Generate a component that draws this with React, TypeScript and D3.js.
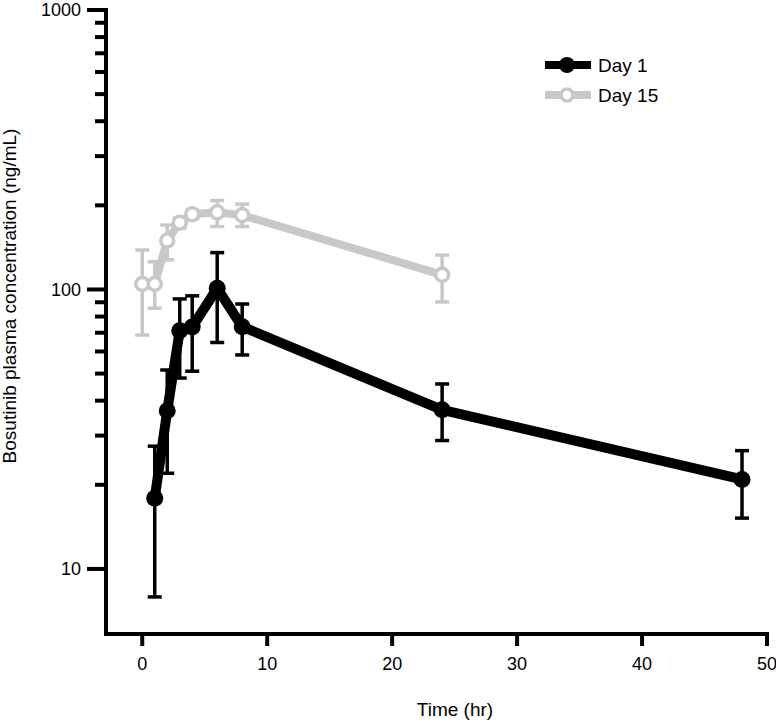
import React from "react";
import * as d3 from "d3";

const timesDay1 = [1, 2, 3, 4, 6, 8, 24, 48];
const meanDay1 = [17.9, 36.8, 71.1, 73.4, 101, 73.6, 37.1, 20.9];
const upperDay1 = [27.5, 51.5, 92.5, 94.9, 135.5, 88.7, 45.9, 26.5];
const lowerDay1 = [7.94, 22.0, 48.2, 51.0, 64.6, 58.3, 28.8, 15.2];

const timesDay15 = [0, 1, 2, 3, 4, 6, 8, 24];
const meanDay15 = [104.6, 104.6, 149.6, 173.4, 185.8, 188.8, 184.5, 112.8];
const upperDay15 = [138.4, 125.6, 170, 180, 192, 208, 202, 132.8];
const lowerDay15 = [68.7, 85.7, 127.7, 166, 179, 167.9, 167.9, 90.2];

const xTicks = [0, 10, 20, 30, 40, 50];
const yMajorTicks = [10, 100, 1000];
const yMinorTicks = [20, 30, 40, 50, 60, 70, 80, 90, 200, 300, 400, 500, 600, 700, 800, 900];

const seriesNames = ["Day 1", "Day 15"];

const W = 776;
const H = 723;
const FONT = "'Liberation Sans Narrow', 'Arial Narrow', 'Liberation Sans', Arial, sans-serif";

export default function App() {
  const x = d3.scaleLinear().domain([-2.9, 50]).range([106, 767]);
  const y = d3.scaleLog().domain([5.85, 1000]).range([634, 10]);

  const line = d3
    .line<[number, number]>()
    .x((d) => x(d[0]))
    .y((d) => y(d[1]));

  const d1 = timesDay1.map((t, i) => [t, meanDay1[i]] as [number, number]);
  const d15 = timesDay15.map((t, i) => [t, meanDay15[i]] as [number, number]);

  const black = "#000000";
  const gray = "#c8c8c8";
  const cap = 7;

  const errBars = (times: number[], up: number[], lo: number[], color: string) =>
    times.map((t, i) => (
      <g key={i} stroke={color} strokeWidth={3.5} fill="none">
        <line x1={x(t)} x2={x(t)} y1={y(up[i])} y2={y(lo[i])} />
        <line x1={x(t) - cap} x2={x(t) + cap} y1={y(up[i])} y2={y(up[i])} />
        <line x1={x(t) - cap} x2={x(t) + cap} y1={y(lo[i])} y2={y(lo[i])} />
      </g>
    ));

  return (
    <svg width={W} height={H} style={{ position: "absolute", left: 0, top: 0, background: "#fff" }}>
      {/* Day 15 */}
      {errBars(timesDay15, upperDay15, lowerDay15, gray)}
      <path d={line(d15) || ""} fill="none" stroke={gray} strokeWidth={8} strokeLinejoin="round" />
      {d15.map((d, i) => (
        <circle key={i} cx={x(d[0])} cy={y(d[1])} r={6.5} fill="#fff" stroke={gray} strokeWidth={3.5} />
      ))}

      {/* Day 1 */}
      {errBars(timesDay1, upperDay1, lowerDay1, black)}
      <path d={line(d1) || ""} fill="none" stroke={black} strokeWidth={10} strokeLinejoin="round" />
      {d1.map((d, i) => (
        <circle key={i} cx={x(d[0])} cy={y(d[1])} r={8.5} fill={black} />
      ))}

      {/* Y axis */}
      <line x1={106} x2={106} y1={y(1000) - 2} y2={636} stroke="#000" strokeWidth={4} />
      {yMajorTicks.map((t) => (
        <g key={t}>
          <line x1={87} x2={106} y1={y(t)} y2={y(t)} stroke="#000" strokeWidth={4} />
          <text x={81} y={y(t)} dy="0.36em" textAnchor="end" fontFamily={FONT} fontSize={18} fill="#000">
            {t}
          </text>
        </g>
      ))}
      {yMinorTicks.map((t) => (
        <line key={t} x1={95} x2={106} y1={y(t)} y2={y(t)} stroke="#000" strokeWidth={4} />
      ))}

      {/* X axis */}
      <line x1={104} x2={769} y1={634} y2={634} stroke="#000" strokeWidth={4} />
      {xTicks.map((t) => (
        <g key={t}>
          <line x1={x(t)} x2={x(t)} y1={634} y2={646} stroke="#000" strokeWidth={4} />
          <text x={x(t)} y={670} textAnchor="middle" fontFamily={FONT} fontSize={18} fill="#000">
            {t}
          </text>
        </g>
      ))}

      {/* Axis titles */}
      <text x={455} y={716} textAnchor="middle" fontFamily={FONT} fontSize={19} fill="#000">
        Time (hr)
      </text>
      <text
        transform={`translate(16, 296) rotate(-90)`}
        textAnchor="middle"
        fontFamily={FONT}
        fontSize={19}
        fill="#000"
      >
        Bosutinib plasma concentration (ng/mL)
      </text>

      {/* Legend */}
      <g>
        <line x1={545} x2={591} y1={65} y2={65} stroke={black} strokeWidth={8} />
        <circle cx={567} cy={65} r={8} fill={black} />
        <text x={598} y={72} fontFamily={FONT} fontSize={19} fill="#000">
          {seriesNames[0]}
        </text>
        <line x1={545} x2={591} y1={95} y2={95} stroke={gray} strokeWidth={8} />
        <circle cx={567} cy={95} r={6} fill="#fff" stroke={gray} strokeWidth={3.5} />
        <text x={598} y={102} fontFamily={FONT} fontSize={19} fill="#000">
          {seriesNames[1]}
        </text>
      </g>
    </svg>
  );
}
